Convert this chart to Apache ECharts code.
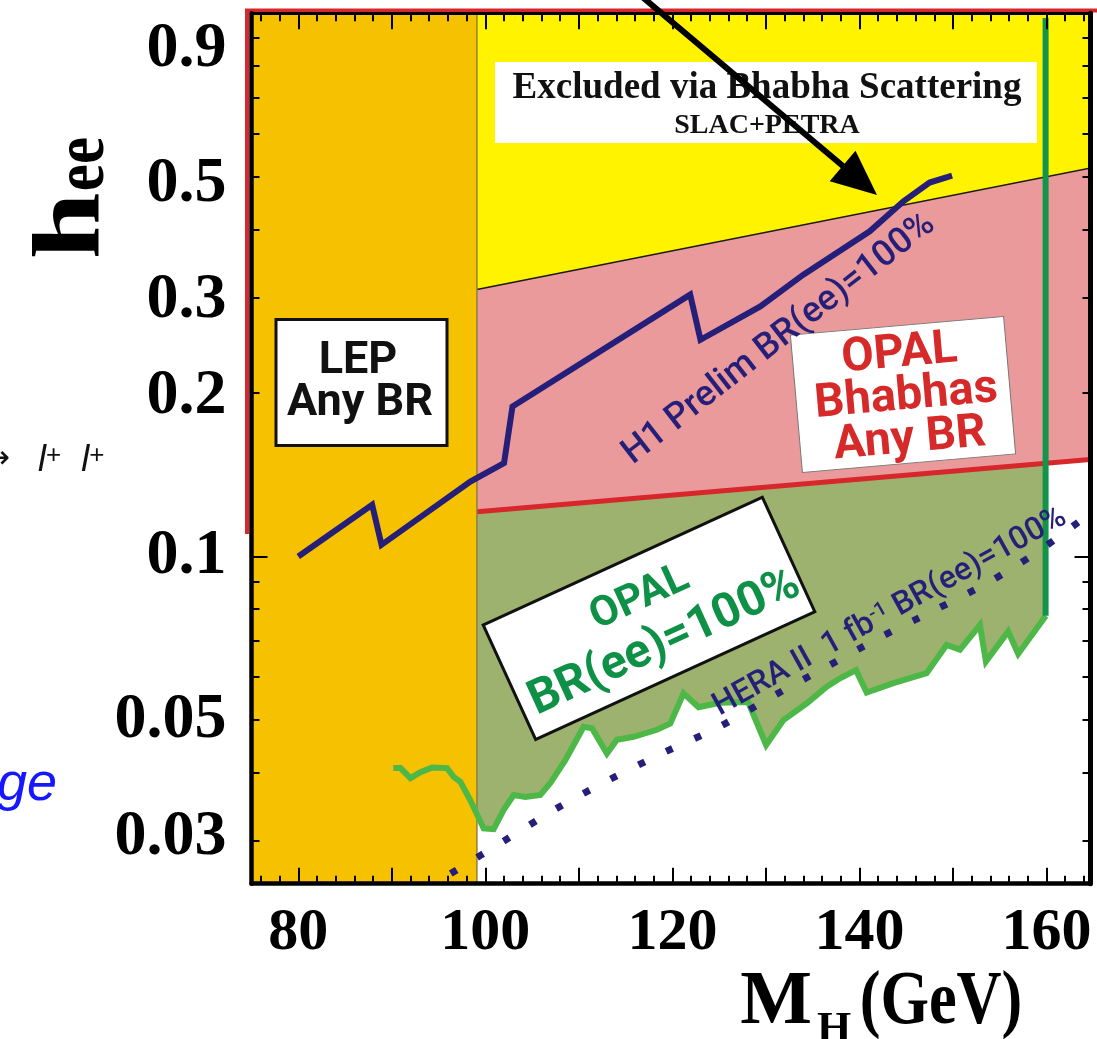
<!DOCTYPE html>
<html><head><meta charset="utf-8">
<script src="https://cdn.jsdelivr.net/npm/echarts@6/dist/echarts.min.js"></script>
<style>html,body{margin:0;padding:0;background:#fff;overflow:hidden}#c{width:1097px;height:1039px}</style>
</head><body><div id="c"></div>
<script>
// ---------- axis ranges and ticks ----------
const massRange = [75, 164.7];
const heeRange = [0.025, 1];
const xMajorTicks = [80, 90, 100, 110, 120, 130, 140, 150, 160];
const xMinorTicks = [76, 78, 82, 84, 86, 88, 92, 94, 96, 98, 102, 104, 106, 108, 112, 114, 116, 118, 122, 124, 126, 128, 132, 134, 136, 138, 142, 144, 146, 148, 152, 154, 156, 158, 162, 164];
const xTickLabels = [80, 100, 120, 140, 160];
const yMajorTicks = [0.1];
const yMinorTicks = [0.03, 0.04, 0.05, 0.06, 0.07, 0.08, 0.09, 0.2, 0.3, 0.4, 0.5, 0.6, 0.7, 0.8, 0.9];
const yTickLabels = [0.03, 0.05, 0.1, 0.2, 0.3, 0.5, 0.9];

// ---------- excluded regions / limits ----------
const lepMassLimit = 99.1;                 // LEP any BR: excluded below this mass
const slacPetraMass = [99.1, 165];         // Bhabha scattering (SLAC+PETRA) lower edge
const slacPetraHee = [0.310, 0.520];
const opalBhabhaMass = [75, 165];          // OPAL Bhabhas any BR lower edge
const opalBhabhaHee = [0.1114, 0.151];
const opalKinMass = 159.9;                 // OPAL BR(ee)=100% vertical limit
const opalKinTop = 0.98;

const h1Mass = [80.0, 87.9, 88.9, 98.4, 102.0, 102.9, 121.9, 123.0, 129.4, 134.0, 141.1, 144.7, 147.5, 149.9];
const h1Hee  = [0.100, 0.1245, 0.1051, 0.1374, 0.1486, 0.1889, 0.3034, 0.2506, 0.2886, 0.3302, 0.3968, 0.4506, 0.4879, 0.5026];

const opalBRMass = [90.15, 90.93, 91.99, 93.06, 94.31, 95.91, 96.62, 97.33, 98.40, 99.82, 100.89, 101.96, 103.03, 104.28, 105.88, 106.95, 108.55, 109.44, 110.50, 111.40, 113.00, 114.07, 115.85, 118.34, 119.77, 121.19, 122.79, 125.11, 128.10, 130.02, 131.87, 134.37, 136.50, 137.92, 139.63, 140.77, 143.62, 147.18, 149.32, 150.74, 152.88, 153.52, 155.90, 156.97, 159.93];
const opalBRHee  = [0.0408, 0.0408, 0.0391, 0.0401, 0.0409, 0.0408, 0.0393, 0.0385, 0.0356, 0.0316, 0.0315, 0.0342, 0.0364, 0.0361, 0.0364, 0.0383, 0.0422, 0.0450, 0.0486, 0.0483, 0.0434, 0.0460, 0.0466, 0.0480, 0.0493, 0.0560, 0.0528, 0.0538, 0.0540, 0.0450, 0.0500, 0.0537, 0.0576, 0.0597, 0.0618, 0.0562, 0.0585, 0.0610, 0.0688, 0.0674, 0.0748, 0.0641, 0.0728, 0.0662, 0.0778];

const heraMass = [96.3, 101.9, 107.5, 113.2, 119.1, 125.0, 130.8, 136.5, 142.2, 148.1, 153.8, 156.6, 159.2, 164.6];
const heraHee  = [0.0261, 0.0299, 0.0343, 0.0388, 0.0436, 0.0486, 0.0554, 0.0627, 0.0710, 0.0798, 0.0896, 0.0959, 0.1024, 0.1199];

// ---------- helpers ----------
function logInterp(xs, ys, x) {
  let i = 0;
  while (i < xs.length - 2 && x > xs[i + 1]) i++;
  const t = (x - xs[i]) / (xs[i + 1] - xs[i]);
  const l = Math.log10(ys[i]) + t * (Math.log10(ys[i + 1]) - Math.log10(ys[i]));
  return Math.pow(10, l);
}
const zip = (a, b) => a.map((v, i) => [v, b[i]]);

const NAVY = '#261f79';
const RED = '#d7262c';
const serif = 'Liberation Serif';
const sans = 'Roboto';

// label nudges that mimic the hand-placed labels of the original figure
function yLabelFmt(v) {
  const s = String(parseFloat(Number(v).toPrecision(3)));
  const style = { '0.9': 'a', '0.5': 'b', '0.3': 'c', '0.2': 'c', '0.03': 'd' }[s] || 'n';
  return '{' + style + '|' + s + '}';
}

function xAxisCfg(pos, ticks, len, showLine, labels) {
  return {
    type: 'value', position: pos, min: massRange[0], max: massRange[1], z: 10,
    axisLine: { show: showLine, onZero: false, lineStyle: { color: '#000', width: pos === 'bottom' ? 4.5 : 3 } },
    axisTick: { show: true, inside: true, length: len, customValues: ticks, lineStyle: { color: '#000', width: 2 } },
    axisLabel: labels ? { show: true, customValues: labels, fontFamily: serif, fontWeight: 'bold', fontSize: 60, color: '#000', margin: 20 } : { show: false },
    splitLine: { show: false }
  };
}
function yAxisCfg(pos, ticks, len, showLine, labels) {
  const base = { fontFamily: serif, fontWeight: 'bold', fontSize: 64, color: '#000' };
  return {
    type: 'log', logBase: 10, position: pos, min: heeRange[0], max: heeRange[1], z: 10,
    axisLine: { show: showLine, onZero: false, lineStyle: { color: '#000', width: pos === 'left' ? 4.5 : 5 } },
    axisTick: { show: true, inside: true, length: len, customValues: ticks, lineStyle: { color: '#000', width: 2 } },
    axisLabel: labels ? Object.assign({ show: true, customValues: labels, margin: 25, formatter: yLabelFmt,
      rich: {
        n: Object.assign({}, base),
        a: Object.assign({ padding: [22, 0, 0, 0] }, base),
        b: Object.assign({ padding: [16, 0, 0, 0] }, base),
        c: Object.assign({ padding: [6, 0, 0, 0] }, base),
        d: Object.assign({ padding: [0, 0, 7, 0] }, base)
      } }, base) : { show: false },
    splitLine: { show: false }, minorTick: { show: false }
  };
}

const dummy = [[massRange[0], heeRange[1]]];

// OPAL Bhabhas (pink) region + red outer frame
function renderPink(params, api) {
  const x0 = massRange[0], x1 = massRange[1];
  const pts = [
    api.coord([x0, logInterp(opalBhabhaMass, opalBhabhaHee, x0)]),
    api.coord([x1, logInterp(opalBhabhaMass, opalBhabhaHee, x1)]),
    api.coord([x1, heeRange[1]]),
    api.coord([x0, heeRange[1]])
  ];
  const frame = [
    [pts[0][0] - 4.5, pts[0][1] + 3],
    [pts[3][0] - 4.5, pts[3][1] - 2.8],
    [pts[2][0] + 12, pts[2][1] - 2.8]
  ];
  return { type: 'group', children: [
    { type: 'polygon', shape: { points: pts }, style: { fill: '#eb9a9c' } },
    { type: 'polyline', shape: { points: frame }, style: { stroke: RED, lineWidth: 4, fill: null } }
  ] };
}
function renderYellow(params, api) {
  const x0 = slacPetraMass[0], x1 = massRange[1];
  const pts = [
    api.coord([x0, logInterp(slacPetraMass, slacPetraHee, x0)]),
    api.coord([x1, logInterp(slacPetraMass, slacPetraHee, x1)]),
    api.coord([x1, heeRange[1]]),
    api.coord([x0, heeRange[1]])
  ];
  return { type: 'polygon', shape: { points: pts }, style: { fill: '#fff300' } };
}
function renderGreenFill(params, api) {
  const xa = opalBRMass[0], xb = opalBRMass[opalBRMass.length - 1];
  const pts = [
    api.coord([xa, logInterp(opalBhabhaMass, opalBhabhaHee, xa)]),
    api.coord([xb, logInterp(opalBhabhaMass, opalBhabhaHee, xb)])
  ];
  for (let i = opalBRMass.length - 1; i >= 0; i--) pts.push(api.coord([opalBRMass[i], opalBRHee[i]]));
  return { type: 'polygon', shape: { points: pts }, style: { fill: '#9db26e' } };
}
function renderOrange(params, api) {
  const a = api.coord([massRange[0], heeRange[0]]);
  const b = api.coord([lepMassLimit, heeRange[1]]);
  return { type: 'group', children: [
    { type: 'rect', shape: { x: a[0], y: b[1], width: b[0] - a[0], height: a[1] - b[1] }, style: { fill: '#f6c200' } },
    { type: 'line', shape: { x1: b[0], y1: b[1], x2: b[0], y2: a[1] }, style: { stroke: '#8f7f3c', lineWidth: 1.5 } }
  ] };
}

const option = {
  animation: false,
  backgroundColor: '#fff',
  grid: { left: 251.5, right: 6.5, top: 13.2, bottom: 155.3, containLabel: false, outerBoundsMode: 'none' },
  xAxis: [
    xAxisCfg('bottom', xMajorTicks, 16, true, xTickLabels),
    xAxisCfg('bottom', xMinorTicks, 8, false, null),
    xAxisCfg('top', xMajorTicks, 16, true, null),
    xAxisCfg('top', xMinorTicks, 8, false, null)
  ],
  yAxis: [
    yAxisCfg('left', yMajorTicks, 16, true, yTickLabels),
    yAxisCfg('left', yMinorTicks, 8, false, null),
    yAxisCfg('right', yMajorTicks, 16, true, null),
    yAxisCfg('right', yMinorTicks, 8, false, null)
  ],
  series: [
    { type: 'custom', name: 'OPAL Bhabhas Any BR', z: 1, silent: true, clip: false, renderItem: renderPink, data: dummy },
    { type: 'custom', name: 'Excluded via Bhabha Scattering', z: 2, silent: true, renderItem: renderYellow, data: dummy },
    { type: 'line', name: 'SLAC+PETRA edge', z: 3, silent: true, symbol: 'none', data: zip(slacPetraMass, slacPetraHee),
      lineStyle: { color: '#1a1a1a', width: 1.5 } },
    { type: 'custom', name: 'OPAL BR(ee)=100% region', z: 3, silent: true, renderItem: renderGreenFill, data: dummy },
    { type: 'line', name: 'OPAL Bhabhas edge', z: 4, silent: true, symbol: 'none', data: zip(opalBhabhaMass, opalBhabhaHee),
      lineStyle: { color: RED, width: 5 } },
    { type: 'custom', name: 'LEP Any BR', z: 5, silent: true, renderItem: renderOrange, data: dummy },
    { type: 'line', name: 'OPAL BR(ee)=100%', z: 6, silent: true, symbol: 'none', data: zip(opalBRMass, opalBRHee),
      lineStyle: { color: '#4db848', width: 6, join: 'miter' } },
    { type: 'line', name: 'OPAL kinematic limit', z: 6, silent: true, symbol: 'none',
      data: [[opalKinMass, opalBRHee[opalBRHee.length - 1]], [opalKinMass, opalKinTop]],
      lineStyle: { color: '#12954a', width: 6 } },
    { type: 'line', name: 'H1 Prelim BR(ee)=100%', z: 7, silent: true, symbol: 'none', data: zip(h1Mass, h1Hee),
      lineStyle: { color: NAVY, width: 6, join: 'miter', cap: 'butt' } },
    { type: 'line', name: 'HERA II 1 fb-1 BR(ee)=100%', z: 7, silent: true, symbol: 'none', smooth: 0.3, data: zip(heraMass, heraHee),
      lineStyle: { color: NAVY, width: 7, type: [7, 24], cap: 'butt' } }
  ],
  graphic: [
    // y-axis title h_ee
    { type: 'text', z: 30, x: 73, y: 226, rotation: Math.PI / 2, scaleX: 1.25,
      style: { text: 'h', fontFamily: serif, fontWeight: 'bold', fontSize: 96, fill: '#000', align: 'center', verticalAlign: 'middle' } },
    { type: 'text', z: 30, x: 84, y: 164, rotation: Math.PI / 2, scaleX: 0.85,
      style: { text: 'ee', fontFamily: serif, fontWeight: 'bold', fontSize: 72, fill: '#000', align: 'center', verticalAlign: 'middle' } },
    // x-axis title M_H (GeV)
    { type: 'text', z: 30, x: 776, y: 1003,
      style: { text: 'M', fontFamily: serif, fontWeight: 'bold', fontSize: 76, fill: '#000', align: 'center', verticalAlign: 'middle' } },
    { type: 'text', z: 30, x: 834, y: 1031,
      style: { text: 'H', fontFamily: serif, fontWeight: 'bold', fontSize: 44, fill: '#000', align: 'center', verticalAlign: 'middle' } },
    { type: 'text', z: 30, x: 941, y: 1003, scaleX: 0.82,
      style: { text: '(GeV)', fontFamily: serif, fontWeight: 'bold', fontSize: 76, fill: '#000', align: 'center', verticalAlign: 'middle' } },
    // Excluded via Bhabha scattering box
    { type: 'rect', z: 30, shape: { x: 495, y: 62, width: 542, height: 81 }, style: { fill: '#fff' } },
    { type: 'text', z: 31, x: 767, y: 88,
      style: { text: 'Excluded via Bhabha Scattering', fontFamily: serif, fontWeight: 'bold', fontSize: 37, fill: '#111', align: 'center', verticalAlign: 'middle' } },
    { type: 'text', z: 31, x: 767, y: 126,
      style: { text: 'SLAC+PETRA', fontFamily: serif, fontWeight: 'bold', fontSize: 28, fill: '#111', align: 'center', verticalAlign: 'middle' } },
    // arrow
    { type: 'line', z: 32, shape: { x1: 640, y1: -5, x2: 850, y2: 172 }, style: { stroke: '#000', lineWidth: 6 } },
    { type: 'polygon', z: 32, shape: { points: [[877, 195], [829.7, 181.3], [855.5, 150.7]] }, style: { fill: '#000' } },
    // LEP box
    { type: 'rect', z: 30, shape: { x: 276, y: 319.5, width: 171, height: 126 }, style: { fill: '#fff', stroke: '#111', lineWidth: 3 } },
    { type: 'text', z: 31, x: 358, y: 362,
      style: { text: 'LEP', fontFamily: sans, fontWeight: 'bold', fontSize: 45, fill: '#111', align: 'center', verticalAlign: 'middle' } },
    { type: 'text', z: 31, x: 360, y: 404,
      style: { text: 'Any BR', fontFamily: sans, fontWeight: 'bold', fontSize: 45, fill: '#111', align: 'center', verticalAlign: 'middle' } },
    // OPAL Bhabhas box
    { type: 'group', z: 30, x: 903, y: 394.5, rotation: 5 * Math.PI / 180, children: [
      { type: 'rect', z: 30, shape: { x: -107, y: -69, width: 214, height: 138 }, style: { fill: '#fff', stroke: '#777', lineWidth: 1 } },
      { type: 'text', z: 31, x: 0, y: -40, style: { text: 'OPAL', fontFamily: sans, fontWeight: 'bold', fontSize: 47, fill: '#d62a2a', align: 'center', verticalAlign: 'middle' } },
      { type: 'text', z: 31, x: 3, y: 3, style: { text: 'Bhabhas', fontFamily: sans, fontWeight: 'bold', fontSize: 47, fill: '#d62a2a', align: 'center', verticalAlign: 'middle' } },
      { type: 'text', z: 31, x: 3, y: 46, style: { text: 'Any BR', fontFamily: sans, fontWeight: 'bold', fontSize: 47, fill: '#d62a2a', align: 'center', verticalAlign: 'middle' } }
    ] },
    // OPAL BR(ee)=100% box
    { type: 'group', z: 30, x: 649, y: 618.4, rotation: 24.6 * Math.PI / 180, children: [
      { type: 'rect', z: 30, shape: { x: -153.5, y: -63, width: 307, height: 126 }, style: { fill: '#fff', stroke: '#111', lineWidth: 3 } },
      { type: 'text', z: 31, x: 0, y: -22, style: { text: 'OPAL', fontFamily: sans, fontWeight: 'bold', fontSize: 42, fill: '#0e9146', align: 'center', verticalAlign: 'middle' } },
      { type: 'text', z: 31, x: 4, y: 29, style: { text: 'BR(ee)=100%', fontFamily: sans, fontWeight: 'bold', fontSize: 48, fill: '#0e9146', align: 'center', verticalAlign: 'middle' } }
    ] },
    // curve labels
    { type: 'text', z: 31, x: 779, y: 339, rotation: 38 * Math.PI / 180,
      style: { text: 'H1 Prelim BR(ee)=100%', fontFamily: sans, fontWeight: 500, fontSize: 36, fill: NAVY, align: 'center', verticalAlign: 'middle' } },
    { type: 'text', z: 31, x: 890, y: 612, rotation: 29 * Math.PI / 180,
      style: { text: '{n|HERA II  1 fb}{s|-1}{n| BR(ee)=100%}', fill: NAVY, align: 'center', verticalAlign: 'middle',
        rich: { n: { fontFamily: sans, fontWeight: 500, fontSize: 32, fill: NAVY }, s: { fontFamily: sans, fontWeight: 500, fontSize: 20, fill: NAVY, verticalAlign: 'top' } } } },
    // clipped fragments at the left edge
    { type: 'text', z: 31, x: 10, y: 460,
      style: { text: '→', fontFamily: 'DejaVu Sans', fontSize: 32, fill: '#111', align: 'right', verticalAlign: 'middle' } },
    { type: 'text', z: 31, x: 38, y: 461,
      style: { text: '{l|l}{p|+}{l|  l}{p|+}', align: 'left', verticalAlign: 'middle',
        rich: { l: { fontFamily: 'Liberation Sans', fontStyle: 'italic', fontSize: 36, fill: '#111' }, p: { fontFamily: 'Liberation Sans', fontSize: 26, fill: '#111', verticalAlign: 'top' } } } },
    { type: 'text', z: 31, x: -3, y: 785,
      style: { text: 'ge', fontFamily: 'Liberation Sans', fontStyle: 'italic', fontSize: 54, fill: '#1717ff', align: 'left', verticalAlign: 'middle' } }
  ]
};
const chart = echarts.init(document.getElementById('c'), null, { renderer: 'canvas' });
chart.setOption(option);
</script>
</body></html>
